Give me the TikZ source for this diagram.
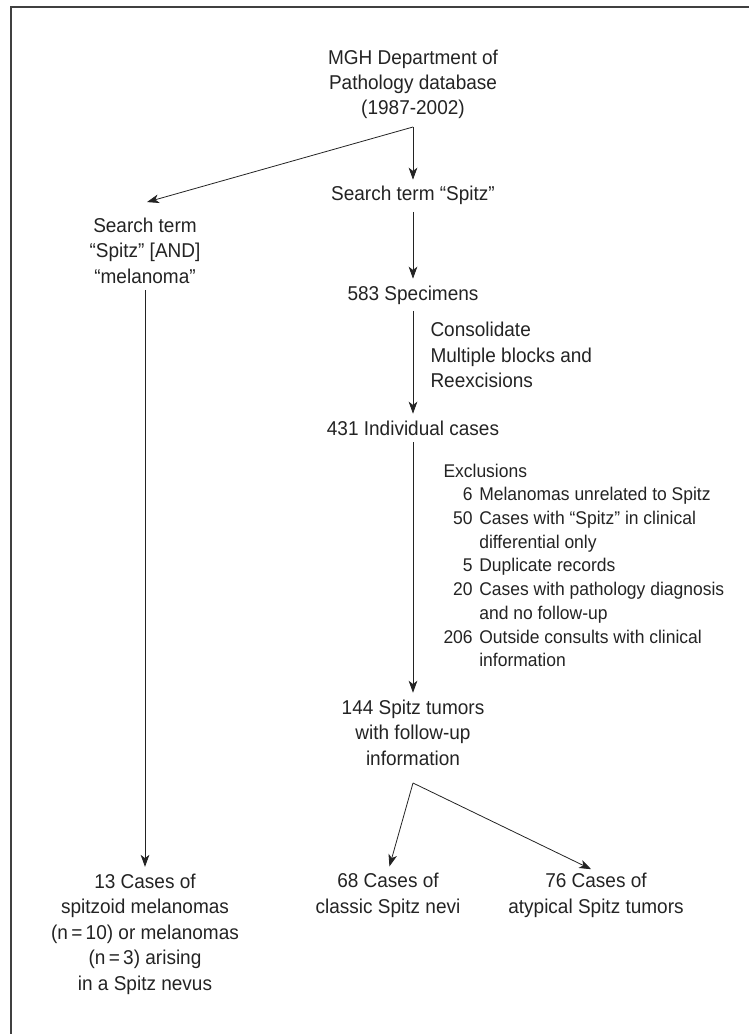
\documentclass[tikz,border=0pt]{standalone}
\usepackage{fontspec}
\setmainfont{Liberation Sans}[FakeStretch=0.95]
\usetikzlibrary{arrows.meta,calc}

\definecolor{inkgray}{RGB}{35,35,35}
\definecolor{framegray}{RGB}{64,64,64}

\tikzset{every picture/.style={line width=0.75pt}}

\begin{document}
\begin{tikzpicture}[x=0.75pt,y=0.75pt,yscale=-1,xscale=1,
	txt/.style={inner sep=0.75pt,align=center,anchor=base,text=inkgray,font=\fontsize{15}{19.1}\selectfont},
	excl/.style={inner sep=0pt,anchor=base west,text=inkgray,font=\fontsize{13.8}{17.8}\selectfont},
	arr/.style={draw=inkgray,line width=0.6pt,shorten >=4pt,shorten <=4pt,-{Stealth[length=9pt,width=6.5pt,inset=2.5pt]}},
	fork/.style={draw=inkgray,line width=0.6pt,shorten >=4pt,-{Stealth[length=9pt,width=6.5pt,inset=2.5pt]}}]
		%set diagram size to the reference frame
		\useasboundingbox (0,0) rectangle (749,1034);
		
		%Shape: Frame (top and left edge)
		\draw [draw=framegray,line width=1.5pt] (11,1034) -- (11,7) -- (749,7) ;
		
		%Nodes (multi-line nodes sit on the baseline of their last line)
		\node [txt] (db) at (413,115) {MGH Department of\\Pathology database\\(1987-2002)};
		\node [txt] (spitz) at (413,201) {Search term “Spitz”};
		\node [txt] (mel) at (145,283) {Search term\\“Spitz” [AND]\\“melanoma”};
		\node [txt] (spec) at (413,300) {583 Specimens};
		\node [txt,anchor=base west,align=left] (cons) at (429,387.7) {Consolidate\\Multiple blocks and\\Reexcisions};
		\node [txt] (indiv) at (413,435) {431 Individual cases};
		\node [excl] (exclu) at (443,477) {\begin{tabular}[t]{@{}r@{\hspace{5pt}}l@{}}
				\multicolumn{2}{@{}l@{}}{Exclusions}\\
				6 & Melanomas unrelated to Spitz\\
				50 & Cases with “Spitz” in clinical\\
				& differential only\\
				5 & Duplicate records\\
				20 & Cases with pathology diagnosis\\
				& and no follow-up\\
				206 & Outside consults with clinical\\
				& information
			\end{tabular}};
		\node [txt] (tum) at (413,765) {144 Spitz tumors\\with follow-up\\information};
		\node [txt] (melc) at (145,990) {13 Cases of\\spitzoid melanomas\\(n\,=\,10) or melanomas\\(n\,=\,3) arising\\in a Spitz nevus};
		\node [txt] (classic) at (388,913) {68 Cases of\\classic Spitz nevi};
		\node [txt] (atyp) at (596,913) {76 Cases of\\atypical Spitz tumors};
		
		%Forks
		\coordinate (fa) at (413,127);
		\coordinate (fb) at (413,783);
		
		%Connectors
		\draw [fork] (fa) -- (spitz.north) ;
		\draw [fork,shorten >=0pt] (fa) -- ($(mel.north)+(2,-14)$) ;
		\draw [arr] (spitz) -- (spec) ;
		\draw [arr] (spec) -- (indiv) ;
		\draw [arr] (indiv) -- (tum) ;
		\draw [arr] (mel) -- (melc) ;
		\draw [fork] (fb) -- (classic.north) ;
		\draw [fork] (fb) -- (atyp.north) ;
		
	\end{tikzpicture}
\end{document}
